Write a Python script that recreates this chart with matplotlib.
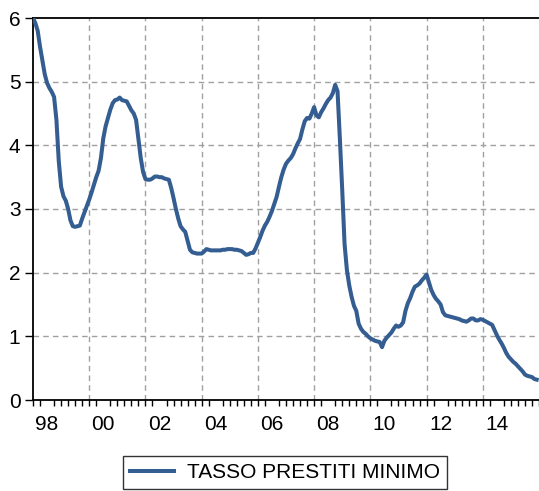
import matplotlib
matplotlib.use("Agg")
import matplotlib.pyplot as plt
import numpy as np

plt.rcParams['font.family'] = ['Liberation Sans', 'DejaVu Sans']

start_year = 1998
series_name = "TASSO PRESTITI MINIMO"
values = [
    # 1998
    6.00, 5.92, 5.80, 5.55, 5.33, 5.12, 4.98, 4.90, 4.84, 4.76, 4.40, 3.75,
    # 1999
    3.35, 3.20, 3.13, 3.00, 2.82, 2.73, 2.72, 2.73, 2.74, 2.85, 2.95, 3.05,
    # 2000
    3.15, 3.26, 3.38, 3.50, 3.60, 3.80, 4.11, 4.30, 4.43, 4.56, 4.66, 4.71,
    # 2001
    4.72, 4.75, 4.71, 4.70, 4.69, 4.62, 4.55, 4.50, 4.40, 4.10, 3.80, 3.58,
    # 2002
    3.47, 3.46, 3.46, 3.48, 3.51, 3.51, 3.50, 3.50, 3.48, 3.47, 3.46, 3.33,
    # 2003
    3.17, 3.00, 2.85, 2.73, 2.68, 2.64, 2.50, 2.36, 2.32, 2.31, 2.30, 2.30,
    # 2004
    2.30, 2.33, 2.37, 2.36, 2.35, 2.35, 2.35, 2.35, 2.35, 2.36, 2.36, 2.37,
    # 2005
    2.37, 2.37, 2.36, 2.36, 2.35, 2.34, 2.31, 2.28, 2.29, 2.31, 2.31, 2.38,
    # 2006
    2.47, 2.56, 2.66, 2.74, 2.80, 2.88, 2.97, 3.08, 3.19, 3.35, 3.50, 3.62,
    # 2007
    3.71, 3.76, 3.80, 3.86, 3.95, 4.03, 4.10, 4.25, 4.38, 4.43, 4.42, 4.50,
    # 2008
    4.60, 4.47, 4.44, 4.52, 4.58, 4.65, 4.71, 4.75, 4.82, 4.95, 4.85, 4.10,
    # 2009
    3.30, 2.45, 2.04, 1.80, 1.62, 1.48, 1.40, 1.20, 1.12, 1.07, 1.04, 1.00,
    # 2010
    0.97, 0.95, 0.93, 0.92, 0.91, 0.83, 0.93, 0.98, 1.02, 1.06, 1.12, 1.17,
    # 2011
    1.15, 1.17, 1.22, 1.40, 1.52, 1.60, 1.70, 1.78, 1.80, 1.83, 1.88, 1.92,
    # 2012
    1.97, 1.85, 1.73, 1.65, 1.59, 1.55, 1.50, 1.38, 1.33, 1.32, 1.31, 1.30,
    # 2013
    1.29, 1.28, 1.27, 1.25, 1.24, 1.23, 1.25, 1.28, 1.28, 1.25, 1.25, 1.27,
    # 2014
    1.26, 1.24, 1.22, 1.20, 1.18, 1.10, 1.02, 0.95, 0.89, 0.82, 0.74, 0.68,
    # 2015
    0.64, 0.60, 0.57, 0.53, 0.49, 0.45, 0.40, 0.38, 0.37, 0.36, 0.33, 0.32,
]
label_years = [1998, 2000, 2002, 2004, 2006, 2008, 2010, 2012, 2014]
tick_labels = ["98", "00", "02", "04", "06", "08", "10", "12", "14"]
grid_years = [2000, 2002, 2004, 2006, 2008, 2010, 2012, 2014]
y_ticks = [0, 1, 2, 3, 4, 5, 6]

t = start_year + np.arange(len(values)) / 12.0

W, H = 539, 491
fig = plt.figure(figsize=(W / 100, H / 100), dpi=100)
ax = fig.add_axes([33 / W, (H - 400) / H, (539 - 33) / W, (400 - 18) / H])

line_color = '#345d91'
grid_kw = dict(color='#a0a0a0', linestyle=(0, (4, 3)), linewidth=1.0, zorder=1)
for gy in grid_years:
    ax.axvline(gy, **grid_kw)
for yv in y_ticks[1:-1]:
    ax.axhline(yv, **grid_kw)

ax.plot(t, values, color=line_color, linewidth=2.9, zorder=3,
        solid_joinstyle='round', label=series_name)

ax.set_xlim(start_year, start_year + len(values) / 12.0)
ax.set_ylim(0, 6)

ax.set_yticks(y_ticks)
ax.set_yticklabels([str(v) for v in y_ticks])
ax.set_xticks([y + 0.5 for y in label_years])
ax.set_xticklabels(tick_labels)
ax.set_xticks(np.arange(start_year, start_year + len(values) / 12.0 + 0.01, 0.25), minor=True)

ax.tick_params(axis='x', which='major', length=0, pad=11, labelsize=15, colors='black')
ax.tick_params(axis='x', which='minor', length=4.5, width=1.0, direction='out')
ax.tick_params(axis='y', which='major', length=6, width=1.0, direction='out', pad=3, labelsize=15)

for s in ['left', 'bottom', 'top']:
    ax.spines[s].set_linewidth(1.3)
    ax.spines[s].set_color('black')
ax.spines['right'].set_visible(False)

leg = fig.legend(loc='center', bbox_to_anchor=(285 / W, 1 - 472.5 / H),
                 fontsize=15, frameon=True, fancybox=False, edgecolor='black',
                 handlelength=2.1, handletextpad=0.65, borderpad=0.35)
leg.get_frame().set_linewidth(1.0)

fig.savefig('out.png', dpi=100)
